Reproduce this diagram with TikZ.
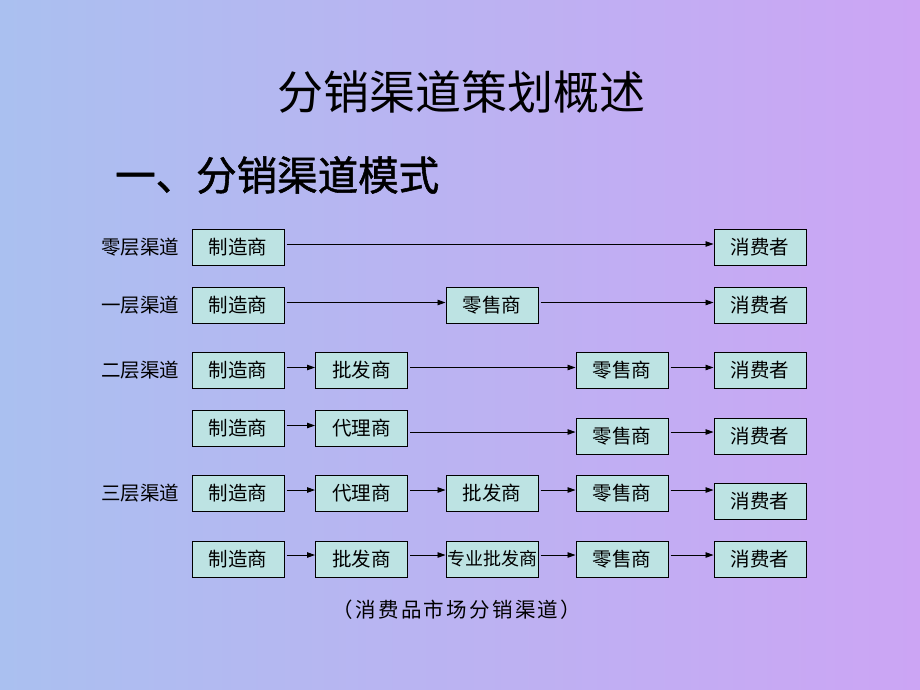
\documentclass[tikz,border=0pt]{standalone}
\usepackage{fontspec}
\newfontfamily\cjk{Noto Sans CJK SC}
\newfontfamily\cjksub{Noto Sans CJK SC}[FakeBold=1.3]
\newfontfamily\cjkcap{Noto Sans CJK SC}[LetterSpace=11]
\usetikzlibrary{arrows.meta}
\definecolor{bgL}{RGB}{170,192,240}
\definecolor{bgR}{RGB}{204,165,244}
\definecolor{boxfill}{RGB}{189,227,227}
\begin{document}
\begin{tikzpicture}[x=1pt,y=-1pt,
  chan/.style={draw=black, line width=1pt, fill=boxfill, minimum width=92pt, minimum height=36pt, inner sep=0pt, font=\cjk\fontsize{19.5}{20}\selectfont},
  lbl/.style={font=\cjk\fontsize{19.5}{20}\selectfont},
  arr/.style={-{Triangle[length=8pt,width=5.5pt]}, line width=0.9pt, shorten <=2pt}]
\shade[left color=bgL,right color=bgR] (0,0) rectangle (920,690);
\useasboundingbox (0,0) rectangle (920,690);

\node[font=\cjk\fontsize{46}{46}\selectfont] (title) at (461,92) {分销渠道策划概述};
\node[font=\cjksub\fontsize{40.5}{41}\selectfont, anchor=west, inner sep=0pt] (sub) at (115,175) {一、分销渠道模式};

% labels
\node[lbl] (l0) at (140,247) {零层渠道};
\node[lbl] (l1) at (140,305.5) {一层渠道};
\node[lbl] (l2) at (140,370) {二层渠道};
\node[lbl] (l3) at (140,493.5) {三层渠道};

% row 1
\node[chan] (m1) at (238,247) {制造商};
\node[chan] (c1) at (760,247) {消费者};
% row 2
\node[chan] (m2) at (238,305.5) {制造商};
\node[chan] (r2) at (492,305.5) {零售商};
\node[chan] (c2) at (760,305.5) {消费者};
% row 3
\node[chan] (m3) at (238,370) {制造商};
\node[chan] (w3) at (361.5,370) {批发商};
\node[chan] (r3) at (622,370) {零售商};
\node[chan] (c3) at (760,370) {消费者};
% row 4
\node[chan] (m4) at (238,428) {制造商};
\node[chan] (a4) at (361.5,428) {代理商};
\node[chan] (r4) at (622,436) {零售商};
\node[chan] (c4) at (760,436) {消费者};
% row 5
\node[chan] (m5) at (238,493.5) {制造商};
\node[chan] (a5) at (361.5,493.5) {代理商};
\node[chan] (w5) at (492,493.5) {批发商};
\node[chan] (r5) at (622,493.5) {零售商};
\node[chan] (c5) at (760,501) {消费者};
% row 6
\node[chan] (m6) at (238,559) {制造商};
\node[chan] (w6) at (361.5,559) {批发商};
\node[chan, font=\cjk\fontsize{18}{18}\selectfont] (s6) at (492,559) {专业批发商};
\node[chan] (r6) at (622,559) {零售商};
\node[chan] (c6) at (760,559) {消费者};

% arrows
\draw[arr] ([yshift=3pt]m1.east) -- ([yshift=3pt]c1.west);
\draw[arr] ([yshift=3pt]m2.east) -- ([yshift=3pt]r2.west);
\draw[arr] ([yshift=3pt]r2.east) -- ([yshift=3pt]c2.west);
\draw[arr] ([yshift=2.5pt]m3.east) -- ([yshift=2.5pt]w3.west);
\draw[arr] ([yshift=2.5pt]w3.east) -- ([yshift=2.5pt]r3.west);
\draw[arr] ([yshift=2.5pt]r3.east) -- ([yshift=2.5pt]c3.west);
\draw[arr] ([yshift=2.5pt]m4.east) -- ([yshift=2.5pt]a4.west);
\draw[arr] ([yshift=-4pt]a4.east) -- ([yshift=4pt]r4.west);
\draw[arr] ([yshift=4pt]r4.east) -- ([yshift=4pt]c4.west);
\draw[arr] ([yshift=3.5pt]m5.east) -- ([yshift=3.5pt]a5.west);
\draw[arr] ([yshift=3.5pt]a5.east) -- ([yshift=3.5pt]w5.west);
\draw[arr] ([yshift=3.5pt]w5.east) -- ([yshift=3.5pt]r5.west);
\draw[arr] ([yshift=3.5pt]r5.east) -- ([yshift=11pt]c5.west);
\draw[arr] ([yshift=4pt]m6.east) -- ([yshift=4pt]w6.west);
\draw[arr] ([yshift=4pt]w6.east) -- ([yshift=4pt]s6.west);
\draw[arr] ([yshift=4pt]s6.east) -- ([yshift=4pt]r6.west);
\draw[arr] ([yshift=4pt]r6.east) -- ([yshift=4pt]c6.west);

\node[font=\cjkcap\fontsize{20.5}{21}\selectfont] (cap) at (457,610) {（消费品市场分销渠道）};
\end{tikzpicture}
\end{document}
